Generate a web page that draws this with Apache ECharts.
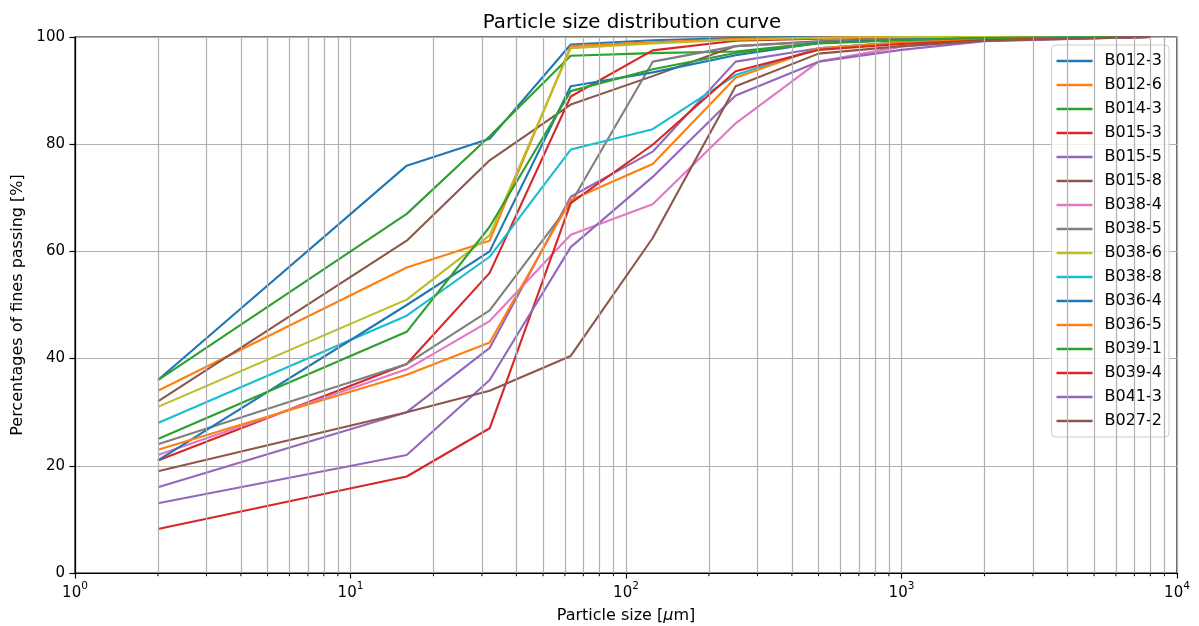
<!DOCTYPE html>
<html>
<head>
<meta charset="utf-8">
<title>Particle size distribution curve</title>
<script src="https://cdn.jsdelivr.net/npm/echarts@6/dist/echarts.min.js"></script>
<style>
  html, body { margin: 0; padding: 0; background: #fff; }
  #chart { width: 1199px; height: 626px; }
</style>
</head>
<body>
<div id="chart"></div>
<script>
// Sieve / hydrometer sizes in micrometres
const sizes = [2, 16, 32, 63, 125, 250, 500, 1000, 2000, 8000];

// Percent passing for each sample
const B012_3 = [36, 76, 81, 98.6, 99.4, 99.8, 100, 100, 100, 100];
const B012_6 = [34, 57, 62, 98.3, 99.0, 99.6, 99.9, 100, 100, 100];
const B014_3 = [36, 67, 81.5, 96.5, 97.0, 97.3, 98.9, 99.5, 99.8, 100];
const B015_3 = [21, 39, 56, 88.9, 97.5, 99.3, 99.7, 99.9, 100, 100];
const B015_5 = [16, 30, 42, 70.2, 78.6, 95.4, 97.9, 99.0, 99.5, 100];
const B015_8 = [32, 62, 77, 87.4, 92.7, 98.3, 99.2, 99.7, 100, 100];
const B038_4 = [22, 38, 47, 63.1, 68.8, 83.9, 95.4, 98.2, 99.3, 100];
const B038_5 = [24, 39, 49, 69, 95.4, 98.3, 99.1, 99.6, 99.9, 100];
const B038_6 = [31, 51, 63, 97.9, 98.8, 99.5, 99.8, 100, 100, 100];
const B038_8 = [28, 48, 59, 79, 82.8, 92.9, 97.9, 99.0, 99.6, 100];
const B036_4 = [21, 50, 60, 90.8, 93.4, 96.6, 98.9, 99.5, 99.8, 100];
const B036_5 = [23, 37, 43, 69.6, 76.3, 92.4, 97.9, 99.0, 99.6, 100];
const B039_1 = [25, 45, 64.6, 89.9, 94.0, 97.0, 98.8, 99.4, 99.8, 100];
const B039_4 = [8.2, 18, 27, 69, 79.9, 93.6, 97.6, 98.7, 99.4, 100];
const B041_3 = [13, 22, 36, 60.8, 73.9, 89.1, 95.4, 97.6, 99.2, 100];
const B027_2 = [19, 30, 34, 40.5, 62.5, 90.8, 96.9, 98.3, 99.3, 100];

const sampleNames = ['B012-3', 'B012-6', 'B014-3', 'B015-3', 'B015-5', 'B015-8',
  'B038-4', 'B038-5', 'B038-6', 'B038-8', 'B036-4', 'B036-5', 'B039-1',
  'B039-4', 'B041-3', 'B027-2'];
const sampleValues = [B012_3, B012_6, B014_3, B015_3, B015_5, B015_8,
  B038_4, B038_5, B038_6, B038_8, B036_4, B036_5, B039_1,
  B039_4, B041_3, B027_2];

// Axis ticks
const yTicks = [0, 20, 40, 60, 80, 100];
const xMajor = [1, 10, 100, 1000, 10000];

// tab10 colour cycle
const palette = ['#1f77b4', '#ff7f0e', '#2ca02c', '#d62728', '#9467bd',
  '#8c564b', '#e377c2', '#7f7f7f', '#bcbd22', '#17becf'];

// Minor log positions 2..9 in every decade
const xMinor = [];
for (let i = 0; i < xMajor.length - 1; i++) {
  for (let k = 2; k <= 9; k++) xMinor.push(xMajor[i] * k);
}

const FONT = 'DejaVu Sans';
const GRID_COLOR = '#b0b0b0';

const lineSeries = sampleNames.map((name, i) => ({
  name: name,
  type: 'line',
  z: 3,
  data: sizes.map((s, j) => [s, sampleValues[i][j]]),
  showSymbol: false,
  symbol: 'none',
  smooth: false,
  animation: false,
  color: palette[i % palette.length],
  lineStyle: { width: 2.1, color: palette[i % palette.length] }
}));

// vertical grid lines at the minor log positions
const minorGrid = {
  name: '__minor',
  type: 'line',
  z: 1,
  data: [],
  silent: true,
  animation: false,
  markLine: {
    silent: true,
    symbol: 'none',
    animation: false,
    label: { show: false },
    lineStyle: { type: 'solid', color: GRID_COLOR, width: 1.2 },
    emphasis: { disabled: true },
    data: xMinor.map(v => ({ xAxis: v }))
  }
};

const chart = echarts.init(document.getElementById('chart'), null, { renderer: 'canvas' });

const option = {
  animation: false,
  backgroundColor: '#ffffff',
  textStyle: { fontFamily: FONT, color: '#000' },
  title: {
    text: 'Particle size distribution curve',
    left: 627,
    textAlign: 'center',
    top: 8,
    textStyle: { fontFamily: FONT, fontSize: 19.8, fontWeight: 'normal', color: '#000' }
  },
  grid: {
    left: 75, right: 22, top: 37, bottom: 53,
    outerBoundsMode: 'none',
    containLabel: false,
    show: true, borderColor: '#000', borderWidth: 1.2, backgroundColor: 'transparent'
  },
  legend: {
    orient: 'vertical',
    right: 30,
    top: 45,
    data: sampleNames,
    icon: 'rect',
    itemWidth: 36,
    itemHeight: 2.4,
    itemGap: 8,
    padding: [8, 7, 8, 5],
    backgroundColor: 'rgba(255,255,255,0.8)',
    borderColor: '#cccccc',
    borderWidth: 1,
    borderRadius: 4,
    selectedMode: false,
    textStyle: { fontFamily: FONT, fontSize: 16, color: '#000', padding: [0, 0, 0, 7] }
  },
  xAxis: {
    type: 'log',
    logBase: 10,
    min: 1,
    max: 10000,
    name: 'Particle size [{it|μ}m]',
    nameLocation: 'middle',
    nameGap: 35,
    nameTextStyle: {
      fontFamily: FONT, fontSize: 16, color: '#000',
      rich: { it: { fontFamily: FONT, fontSize: 16, fontStyle: 'italic', color: '#000' } }
    },
    axisLine: { show: true, lineStyle: { color: '#000', width: 1.2 } },
    axisTick: { show: true, inside: false, length: 5.5, lineStyle: { color: '#000', width: 1.2 } },
    axisLabel: {
      margin: 8,
      formatter: v => '{b|10}{sup|' + Math.round(Math.log10(v)) + '}',
      rich: {
        b: { fontFamily: FONT, fontSize: 15, color: '#000', padding: [5, 0, 0, 0], verticalAlign: 'bottom' },
        sup: { fontFamily: FONT, fontSize: 10.5, color: '#000', verticalAlign: 'top' }
      }
    },
    splitLine: { show: true, lineStyle: { color: GRID_COLOR, width: 1.2 } },
    minorTick: { show: false },
    minorSplitLine: { show: false }
  },
  yAxis: {
    type: 'value',
    min: yTicks[0],
    max: yTicks[yTicks.length - 1],
    interval: 20,
    name: 'Percentages of fines passing [%]',
    nameLocation: 'middle',
    nameGap: 47,
    nameTextStyle: { fontFamily: FONT, fontSize: 16, color: '#000' },
    axisLine: { show: true, lineStyle: { color: '#000', width: 1.2 } },
    axisTick: { show: true, inside: false, length: 5.5, lineStyle: { color: '#000', width: 1.2 } },
    axisLabel: { margin: 10, fontFamily: FONT, fontSize: 15, color: '#000' },
    splitLine: { show: true, lineStyle: { color: GRID_COLOR, width: 1.2 } }
  },
  series: [minorGrid].concat(lineSeries)
};

chart.setOption(option);

// short minor tick marks below the x axis, placed through the axis scale
function drawMinorTicks() {
  const y0 = chart.convertToPixel({ yAxisIndex: 0 }, yTicks[0]);
  const elements = xMinor.map(v => {
    const x = chart.convertToPixel({ xAxisIndex: 0 }, v);
    return {
      type: 'line',
      silent: true,
      z: 10,
      shape: { x1: x, y1: y0, x2: x, y2: y0 + 3.2 },
      style: { stroke: '#000', lineWidth: 1 }
    };
  });
  chart.setOption({ graphic: [{ type: 'group', children: elements }] });
}
drawMinorTicks();
</script>
</body>
</html>
